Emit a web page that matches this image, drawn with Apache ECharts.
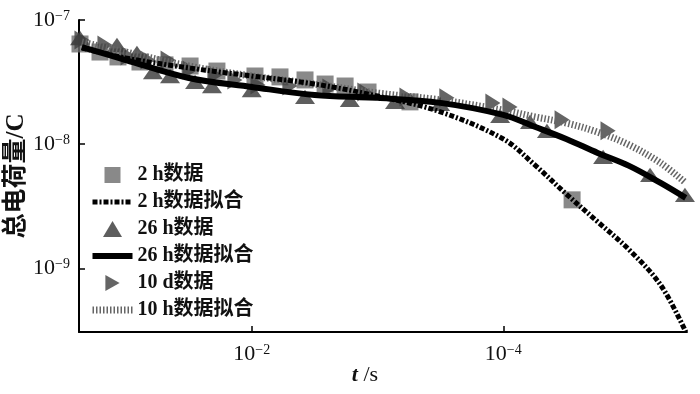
<!DOCTYPE html>
<html><head><meta charset="utf-8">
<script src="https://cdn.jsdelivr.net/npm/echarts@6/dist/echarts.min.js"></script>
<style>html,body{margin:0;padding:0;background:#fff}#c{width:700px;height:394px}</style>
</head><body><div id="c"></div>
<script>
// time axis values (s) and total charge (C)
const fitT = [0.2239, 0.1, 0.03162, 0.01, 0.003162, 0.001, 3.162e-4, 1e-4, 5.623e-5, 3.162e-5, 1.778e-5, 1e-5, 5.623e-6, 3.548e-6];
const fit2h  = [5.95e-8, 4.94e-8, 4.11e-8, 3.54e-8, 3.05e-8, 2.44e-8, 1.82e-8, 1.10e-8, 6.80e-9, 3.97e-9, 2.37e-9, 1.41e-9, 7.35e-10, 3.08e-10];
const fit26h = [6.06e-8, 4.76e-8, 3.41e-8, 2.89e-8, 2.49e-8, 2.36e-8, 2.15e-8, 1.72e-8, 1.38e-8, 1.10e-8, 8.50e-9, 6.68e-9, 4.87e-9, 3.69e-9];
const fit10h = [6.65e-8, 5.52e-8, 4.26e-8, 3.54e-8, 3.05e-8, 2.58e-8, 2.27e-8, 1.88e-8, 1.66e-8, 1.48e-8, 1.25e-8, 9.86e-9, 7.06e-9, 4.87e-9];

const t2h = [0.2317, 0.1607, 0.1156, 0.0773, 0.0489, 0.0309, 0.0189, 0.00942, 0.00596, 0.00377, 0.00261, 0.00181, 0.00119, 5.52e-4, 2.84e-5];
const q2h = [6.41e-8, 5.52e-8, 5.04e-8, 4.59e-8, 4.35e-8, 4.26e-8, 3.88e-8, 3.54e-8, 3.48e-8, 3.29e-8, 3.05e-8, 2.94e-8, 2.63e-8, 2.19e-8, 3.56e-9];

const t26h = [0.2317, 0.1178, 0.0817, 0.0610, 0.0446, 0.0282, 0.0207, 0.0100, 0.00377, 0.00166, 7.26e-4, 3.18e-4, 1.06e-4, 6.14e-5, 4.50e-5, 1.61e-5, 6.82e-6, 3.60e-6];
const q26h = [7.16e-8, 6.29e-8, 5.42e-8, 3.81e-8, 3.54e-8, 3.17e-8, 2.94e-8, 2.73e-8, 2.40e-8, 2.27e-8, 2.19e-8, 2.11e-8, 1.69e-8, 1.51e-8, 1.28e-8, 7.89e-9, 5.65e-9, 3.90e-9];

const t10d = [0.2234, 0.1466, 0.0961, 0.0667, 0.0462, 0.0309, 0.0196, 0.0136, 0.00891, 0.00497, 0.00239, 0.00126, 5.83e-4, 2.81e-4, 1.21e-4, 8.85e-5, 3.41e-5, 1.47e-5];
const q10d = [6.90e-8, 6.29e-8, 5.13e-8, 4.76e-8, 4.76e-8, 3.96e-8, 3.61e-8, 3.29e-8, 3.00e-8, 2.94e-8, 2.84e-8, 2.63e-8, 2.40e-8, 2.36e-8, 2.15e-8, 1.99e-8, 1.57e-8, 1.28e-8];

const names = ['2 h数据', '2 h数据拟合', '26 h数据', '26 h数据拟合', '10 d数据', '10 h数据拟合'];
const xTicks = [1e-2, 1e-4];
const yTicks = [1e-9, 1e-8, 1e-7];

const SQ = 'path://M0,0L10,0L10,10L0,10Z';
const TRI = 'path://M9.5,0L19,16L0,16Z';
const RTRI = 'path://M0,0L16,9L0,18Z';
const SERIF = "'Liberation Serif','Noto Sans CJK SC',serif";

const pairs = (xs, ys) => xs.map((x, i) => [x, ys[i]]);
const expLabel = v => {
  const e = Math.round(Math.log10(v));
  return '{b|10}{s|' + (e < 0 ? '\u2212' : '') + Math.abs(e) + '}';
};
const richLbl = {
  b: {fontFamily: SERIF, fontSize: 22, color: '#111'},
  s: {fontFamily: SERIF, fontSize: 14, color: '#111', verticalAlign: 'top'}
};

const dash2h = [5, 2, 2, 2];
const dash10h = [1.5, 2];

const chart = echarts.init(document.getElementById('c'), null, {renderer: 'canvas'});
chart.setOption({
  animation: false,
  backgroundColor: '#fff',
  grid: {left: 79, right: 13, top: 20, bottom: 62, containLabel: false, outerBoundsMode: 'none'},
  xAxis: {
    type: 'log', logBase: 10, inverse: true,
    min: 3.467e-6, max: 0.236,
    name: '{i|t} /s', nameLocation: 'middle', nameGap: 32, nameMoveOverlap: false,
    nameTextStyle: {fontFamily: SERIF, fontSize: 22, color: '#111', padding: [0, 36, 0, 0],
      rich: {i: {fontFamily: SERIF, fontSize: 22, fontStyle: 'italic', fontWeight: 'bold', color: '#111'}}},
    axisLine: {show: true, lineStyle: {color: '#000', width: 2}},
    axisTick: {show: true, inside: true, length: 6, lineStyle: {color: '#000', width: 1.5}, customValues: xTicks},
    axisLabel: {show: true, margin: 11, formatter: expLabel, rich: richLbl, customValues: xTicks},
    splitLine: {show: false}, minorTick: {show: false}
  },
  yAxis: {
    type: 'log', logBase: 10,
    min: 3.07e-10, max: 1e-7,
    name: '总电荷量/C', nameLocation: 'middle', nameGap: 50, nameRotate: 90, nameMoveOverlap: false,
    nameTextStyle: {fontFamily: SERIF, fontSize: 25, fontWeight: 'bold', color: '#111'},
    axisLine: {show: true, lineStyle: {color: '#000', width: 2}},
    axisTick: {show: true, inside: true, length: 6, lineStyle: {color: '#000', width: 1.5}, customValues: yTicks},
    axisLabel: {show: true, margin: 9, formatter: expLabel, rich: richLbl, customValues: yTicks},
    splitLine: {show: false}, minorTick: {show: false}
  },
  legend: {
    orient: 'vertical', left: 84, top: 160, padding: 5,
    itemWidth: 40, itemHeight: 16, itemGap: 7,
    textStyle: {fontFamily: SERIF, fontSize: 20, fontWeight: 'bold', color: '#111'},
    data: [
      {name: names[0], icon: SQ},
      {name: names[1], itemStyle: {opacity: 0}, lineStyle: {width: 5, type: dash2h, color: '#000'}},
      {name: names[2], icon: TRI},
      {name: names[3], itemStyle: {opacity: 0}, lineStyle: {width: 6, type: 'solid', color: '#000'}},
      {name: names[4], icon: RTRI},
      {name: names[5], itemStyle: {opacity: 0}, lineStyle: {width: 7, type: dash10h, color: '#666'}}
    ]
  },
  series: [
    {type: 'scatter', name: names[0], data: pairs(t2h, q2h), symbol: SQ, symbolSize: 17, symbolKeepAspect: true, itemStyle: {color: '#6b6b6b'}, z: 2},
    {type: 'scatter', name: names[2], data: pairs(t26h, q26h), symbol: TRI, symbolSize: [20, 17], symbolKeepAspect: true, itemStyle: {color: '#363636'}, z: 2},
    {type: 'scatter', name: names[4], data: pairs(t10d, q10d), symbol: RTRI, symbolSize: [17, 19], symbolKeepAspect: true, itemStyle: {color: '#3e3e3e'}, z: 2},
    {type: 'line', name: names[5], data: pairs(fitT, fit10h), smooth: 0.35, symbol: 'none', showSymbol: false, itemStyle: {opacity: 0, color: '#666'}, lineStyle: {width: 7, type: dash10h, color: '#666'}, z: 3},
    {type: 'line', name: names[1], data: pairs(fitT, fit2h), smooth: 0.35, symbol: 'none', showSymbol: false, itemStyle: {opacity: 0, color: '#000'}, lineStyle: {width: 5, type: dash2h, color: '#000'}, z: 4},
    {type: 'line', name: names[3], data: pairs(fitT, fit26h), smooth: 0.35, symbol: 'none', showSymbol: false, itemStyle: {opacity: 0, color: '#000'}, lineStyle: {width: 6, type: 'solid', color: '#000'}, z: 5}
  ]
});
</script>
</body></html>
